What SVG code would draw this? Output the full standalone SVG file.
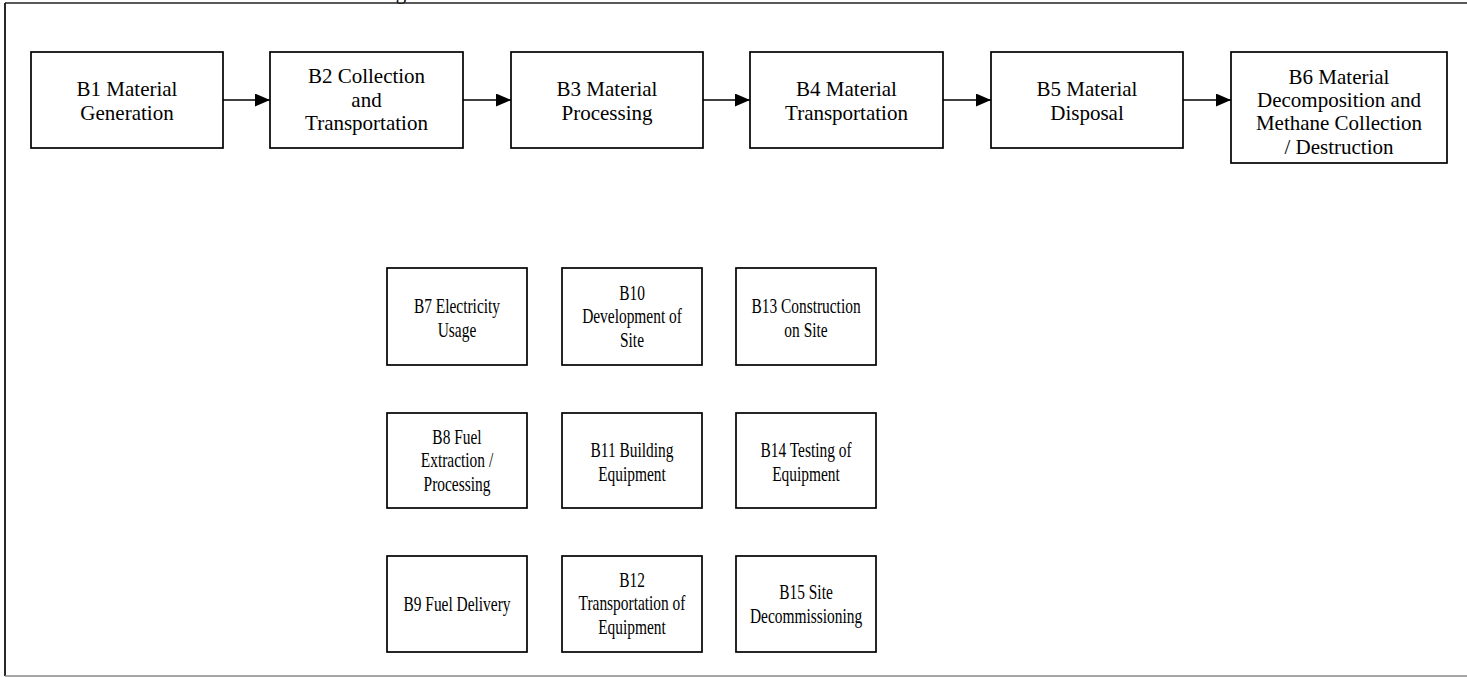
<svg xmlns="http://www.w3.org/2000/svg" width="1467" height="677" viewBox="0 0 1467 677">
<style>
.box{fill:#fff;stroke:#000;stroke-width:1.7}
.t{font-family:'Liberation Serif','Times New Roman',Times,serif;font-size:21px;fill:#000;text-anchor:middle}
.c{stroke:#000;stroke-width:1.6;fill:none}
</style>
<defs>
<marker id="ah" markerUnits="userSpaceOnUse" markerWidth="15" markerHeight="13" refX="15" refY="6.5" orient="auto">
<path d="M0,0 L15,6.5 L0,13 z" fill="#000"/>
</marker>
</defs>
<rect width="1467" height="677" fill="#fff"/>
<g id="frame">
<text class="t" x="401" y="-1.5">g</text>
<line x1="5" y1="3" x2="1467" y2="3" stroke="#222" stroke-width="1.6"/>
<line x1="5" y1="3" x2="5" y2="676" stroke="#111" stroke-width="1.8"/>
<line x1="5" y1="676" x2="1467" y2="676" stroke="#888" stroke-width="1.4"/>
</g>
<g id="connectors">
<line class="c" x1="223" y1="100" x2="270" y2="100" marker-end="url(#ah)"/>
<line class="c" x1="463" y1="100" x2="511" y2="100" marker-end="url(#ah)"/>
<line class="c" x1="703" y1="100" x2="750" y2="100" marker-end="url(#ah)"/>
<line class="c" x1="943" y1="100" x2="991" y2="100" marker-end="url(#ah)"/>
<line class="c" x1="1183" y1="100" x2="1231" y2="100" marker-end="url(#ah)"/>
</g>
<g id="B1"><rect class="box" x="31" y="52" width="192" height="96"/>
<text class="t" x="127" y="96">B1 Material<tspan x="127" y="120">Generation</tspan></text></g>
<g id="B2"><rect class="box" x="270" y="52" width="193" height="96"/>
<text class="t" x="366.5" y="83">B2 Collection<tspan x="366.5" y="106.5">and</tspan><tspan x="366.5" y="130">Transportation</tspan></text></g>
<g id="B3"><rect class="box" x="511" y="52" width="192" height="96"/>
<text class="t" x="607" y="96">B3 Material<tspan x="607" y="120">Processing</tspan></text></g>
<g id="B4"><rect class="box" x="750" y="52" width="193" height="96"/>
<text class="t" x="846.5" y="96">B4 Material<tspan x="846.5" y="120">Transportation</tspan></text></g>
<g id="B5"><rect class="box" x="991" y="52" width="192" height="96"/>
<text class="t" x="1087" y="96">B5 Material<tspan x="1087" y="120">Disposal</tspan></text></g>
<g id="B6"><rect class="box" x="1231" y="52" width="216" height="111"/>
<text class="t" x="1339" y="83.5">B6 Material<tspan x="1339" y="107">Decomposition and</tspan><tspan x="1339" y="130.3">Methane Collection</tspan><tspan x="1339" y="153.6">/ Destruction</tspan></text></g>

<g id="B7"><rect class="box" x="387" y="268" width="140" height="97"/>
<text class="t" transform="translate(457,0) scale(0.735,1)" x="0" y="313">B7 Electricity<tspan x="0" y="337">Usage</tspan></text></g>
<g id="B10"><rect class="box" x="562" y="268" width="140" height="97"/>
<text class="t" transform="translate(632,0) scale(0.735,1)" x="0" y="300">B10<tspan x="0" y="323.5">Development of</tspan><tspan x="0" y="347">Site</tspan></text></g>
<g id="B13"><rect class="box" x="736" y="268" width="140" height="97"/>
<text class="t" transform="translate(806,0) scale(0.735,1)" x="0" y="313">B13 Construction<tspan x="0" y="337">on Site</tspan></text></g>

<g id="B8"><rect class="box" x="387" y="413" width="140" height="95"/>
<text class="t" transform="translate(457,0) scale(0.735,1)" x="0" y="444">B8 Fuel<tspan x="0" y="467.5">Extraction /</tspan><tspan x="0" y="491">Processing</tspan></text></g>
<g id="B11"><rect class="box" x="562" y="413" width="140" height="95"/>
<text class="t" transform="translate(632,0) scale(0.735,1)" x="0" y="457">B11 Building<tspan x="0" y="481">Equipment</tspan></text></g>
<g id="B14"><rect class="box" x="736" y="413" width="140" height="95"/>
<text class="t" transform="translate(806,0) scale(0.735,1)" x="0" y="457">B14 Testing of<tspan x="0" y="481">Equipment</tspan></text></g>

<g id="B9"><rect class="box" x="387" y="556" width="140" height="96"/>
<text class="t" transform="translate(457,0) scale(0.735,1)" x="0" y="611">B9 Fuel Delivery</text></g>
<g id="B12"><rect class="box" x="562" y="556" width="140" height="96"/>
<text class="t" transform="translate(632,0) scale(0.735,1)" x="0" y="587">B12<tspan x="0" y="610.5">Transportation of</tspan><tspan x="0" y="634">Equipment</tspan></text></g>
<g id="B15"><rect class="box" x="736" y="556" width="140" height="96"/>
<text class="t" transform="translate(806,0) scale(0.735,1)" x="0" y="599">B15 Site<tspan x="0" y="623">Decommissioning</tspan></text></g>
</svg>
